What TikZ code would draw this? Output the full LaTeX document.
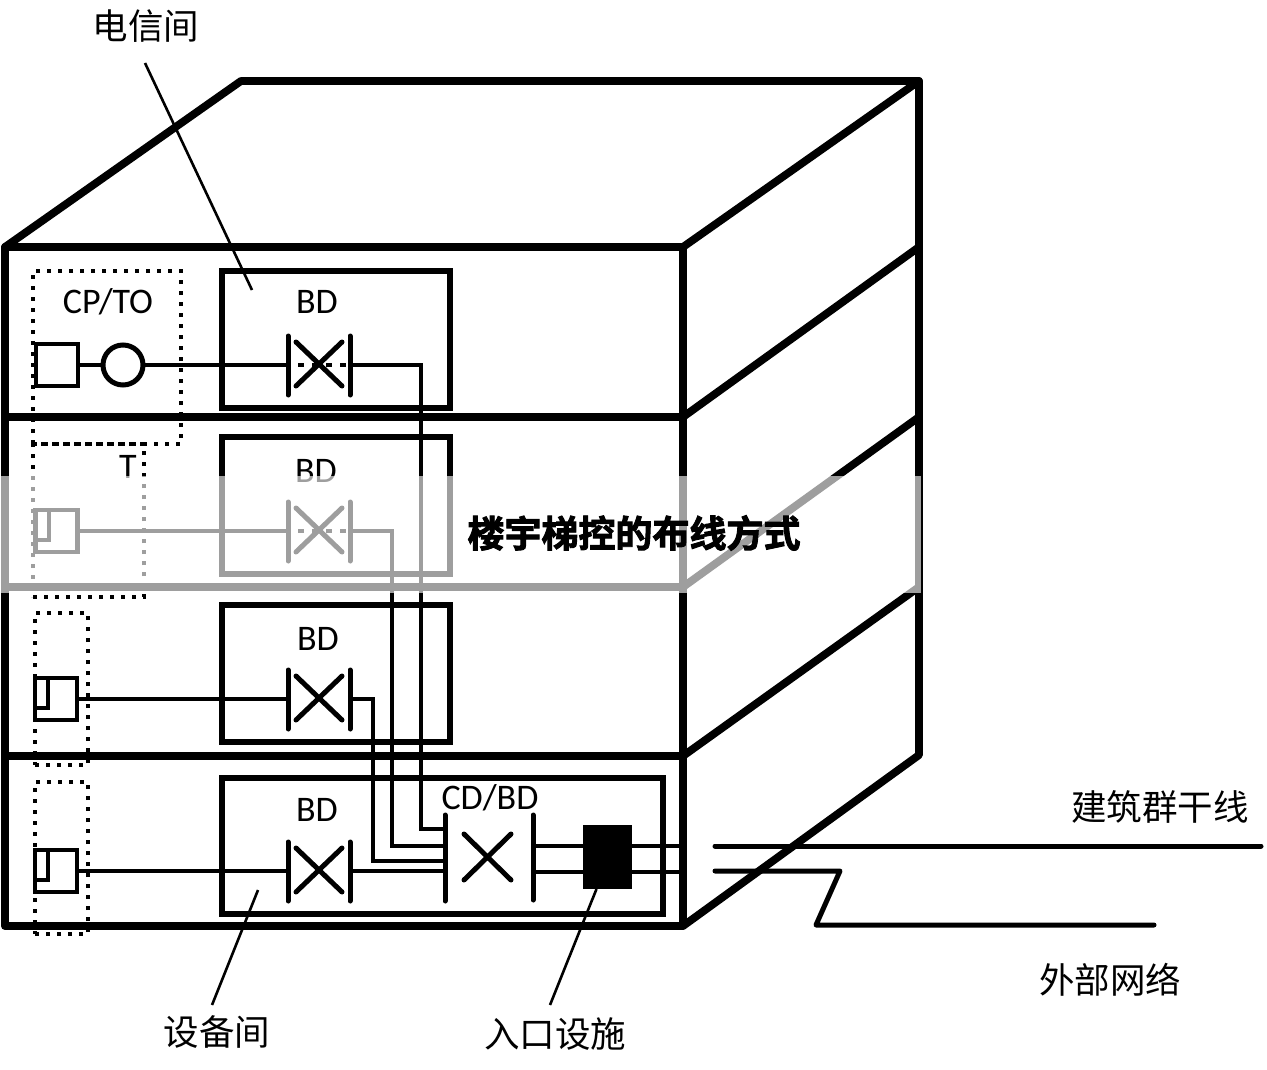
\documentclass[tikz,border=0pt]{standalone}
\usepackage{fontspec}
\setmainfont{Carlito}
\newfontfamily\cjk{Noto Sans CJK SC}
\newfontfamily\cjkb{Noto Sans CJK SC Bold}[FakeBold=2.5]
\tikzset{
  wall/.style={line width=7.8pt,line cap=round,line join=round},
  roombox/.style={draw,line width=6pt,rectangle,inner sep=0pt,outer sep=0pt},
  wire/.style={line width=4.6pt,line join=miter},
  thick bar/.style={line width=5pt,line cap=round},
  outlet/.style={draw,line width=4.6pt,rectangle,inner sep=0pt,outer sep=0pt,minimum width=42pt,minimum height=42pt},
  zone/.style={draw,line width=4.2pt,dash pattern=on 4pt off 7pt,rectangle,inner sep=0pt,outer sep=0pt},
  leader/.style={line width=2.6pt},
  ext/.style={line width=5pt,line join=round,line cap=round},
  lab/.style={inner sep=0pt,font=\fontsize{36}{38}\selectfont},
  cjklab/.style={inner sep=0pt,font=\cjk\fontsize{35.5}{38}\selectfont},
}
\newcommand{\myswitch}[2]{%
  \coordinate (#1l) at (288,#2);
  \coordinate (#1r) at (350,#2);
  \draw[thick bar] (288,#2-29) -- (288,#2+30);
  \draw[thick bar] (350,#2-29) -- (350,#2+30);
  \draw[thick bar] (296,#2-23) -- (342,#2+21);
  \draw[thick bar] (342,#2-23) -- (296,#2+21);
}
\newcommand{\myinner}[1]{\draw[line width=4pt] (#1.north west) ++(13,0) -- ++(0,30) -- ++(-13,0);}
\begin{document}
\begin{tikzpicture}[x=1pt,y=-1pt]
\useasboundingbox (0,0) rectangle (1267,1070);
% external lines, below the building
\coordinate (e1a) at (715,846); \coordinate (e1b) at (1261,846);
\coordinate (e2a) at (715,871); \coordinate (e2b) at (840,871); \coordinate (e2c) at (816,925); \coordinate (e2d) at (1154,925);
\draw[ext] (e1a) -- (e1b);
\draw[ext] (e2a) -- (e2b) -- (e2c) -- (e2d);
% building
\coordinate (fa) at (5,247); \coordinate (fb) at (683,247); \coordinate (fc) at (683,926); \coordinate (fd) at (5,926);
\coordinate (ta) at (241,81); \coordinate (tb) at (919,81); \coordinate (tc) at (919,755);
\draw[wall] (fa) -- (fb) -- (fc) -- (fd) -- cycle;
\draw[wall] (fa) -- (ta) -- (tb) -- (fb);
\draw[wall] (tb) -- (tc) -- (fc);
\coordinate (l1) at (5,417); \coordinate (r1) at (683,417); \coordinate (s1) at (919,247);
\coordinate (l2) at (5,587); \coordinate (r2) at (683,587); \coordinate (s2) at (919,417);
\coordinate (l3) at (5,756); \coordinate (r3) at (683,756); \coordinate (s3) at (919,587);
\draw[wall] (l1) -- (r1) -- (s1);
\draw[wall] (l2) -- (r2) -- (s2);
\draw[wall] (l3) -- (r3) -- (s3);
% rooms
\node[roombox,minimum width=228pt,minimum height=137pt] (bd1) at (336,339.5) {};
\node[roombox,minimum width=228pt,minimum height=137pt] (bd2) at (336,505.5) {};
\node[roombox,minimum width=228pt,minimum height=137pt] (bd3) at (336,673.5) {};
\node[roombox,minimum width=441pt,minimum height=136pt] (bd4) at (442.5,846) {};
% dotted zones
\node[zone,minimum width=148pt,minimum height=173pt] (z1) at (107,357.5) {};
\node[zone,minimum width=111pt,minimum height=153pt] (z2) at (88.5,520.5) {};
\node[zone,minimum width=53pt,minimum height=152pt] (z3) at (61.5,689) {};
\node[zone,minimum width=53pt,minimum height=152pt] (z4) at (61.5,858) {};
% outlets
\node[outlet] (o1) at (57,365) {};
\node[circle,draw,line width=5pt,inner sep=0pt,outer sep=0pt,minimum size=40pt] (c1) at (123,365) {};
\node[outlet] (o2) at (56.5,531) {};
\node[outlet] (o3) at (56,699) {};
\node[outlet] (o4) at (56,871) {};
\myinner{o2}\myinner{o3}\myinner{o4}
% switches
\myswitch{a}{365}
\myswitch{b}{531}
\myswitch{c}{699}
\myswitch{d}{871}
\draw[line width=3.8pt,dash pattern=on 6pt off 8pt] (al) ++(10,0) -- (ar);
\draw[line width=3.8pt,dash pattern=on 6pt off 8pt] (bl) ++(10,0) -- (br);
% CD/BD switch
\coordinate (cl1) at (445,829); \coordinate (cl2) at (445,846); \coordinate (cl3) at (445,861); \coordinate (cl4) at (445,871);
\coordinate (cr1) at (533,846); \coordinate (cr2) at (533,872);
\draw[thick bar] (445,815) -- (445,901);
\draw[thick bar] (533,815) -- (533,900);
\draw[thick bar] (464,834) -- (511,880);
\draw[thick bar] (511,834) -- (464,880);
\node[fill=black,inner sep=0pt,outer sep=0pt,minimum width=49pt,minimum height=64pt] (ent) at (607.5,857) {};
\coordinate (w1) at (680,846); \coordinate (w2) at (680,872);
% wires
\draw[wire] (o1.east) -- (c1.west);
\draw[wire] (c1.east) -- (al);
\draw[wire] (o2.east) -- (bl);
\draw[wire] (o3.east) -- (cl);
\draw[wire] (o4.east) -- (dl);
\draw[wire] (ar) -| (421,829) -- (cl1);
\draw[wire] (br) -| (392,846) -- (cl2);
\draw[wire] (cr) -| (373,861) -- (cl3);
\draw[wire] (dr) -- (cl4);
\draw[wire] (cr1) -- (w1);
\draw[wire] (cr2) -- (w2);
% leaders
\coordinate (p1) at (145,63); \coordinate (p2) at (252,290);
\coordinate (p3) at (258,890); \coordinate (p4) at (212,1005);
\coordinate (p5) at (550,1005);
\draw[leader] (p1) -- (p2);
\draw[leader] (p3) -- (p4);
\draw[leader] (ent.south) ++(-11,0) -- (p5);
% labels
\node[lab] (tcp) at (108,302) {CP/TO};
\node[lab] (tbd1) at (317,302) {BD};
\node[lab] (tt) at (128,467) {T};
\node[lab] (tbd2) at (316,471) {BD};
\node[lab] (tbd3) at (318,639) {BD};
\node[lab] (tbd4) at (317,810) {BD};
\node[lab] (tcd) at (490,798) {CD/BD};
% washed band
\node[fill=white,fill opacity=.62,inner sep=0pt,outer sep=0pt,minimum width=921pt,minimum height=117pt] (band) at (460.5,534.5) {};
\node[inner sep=0pt,font=\cjkb\fontsize{37}{39}\selectfont] (title) at (634,533) {楼宇梯控的布线方式};
\node[cjklab] (n1) at (146,26) {电信间};
\node[cjklab] (n2) at (217,1032) {设备间};
\node[cjklab] (n3) at (555,1034) {入口设施};
\node[cjklab] (n4) at (1160,807) {建筑群干线};
\node[cjklab] (n5) at (1110,980) {外部网络};
\end{tikzpicture}
\end{document}
